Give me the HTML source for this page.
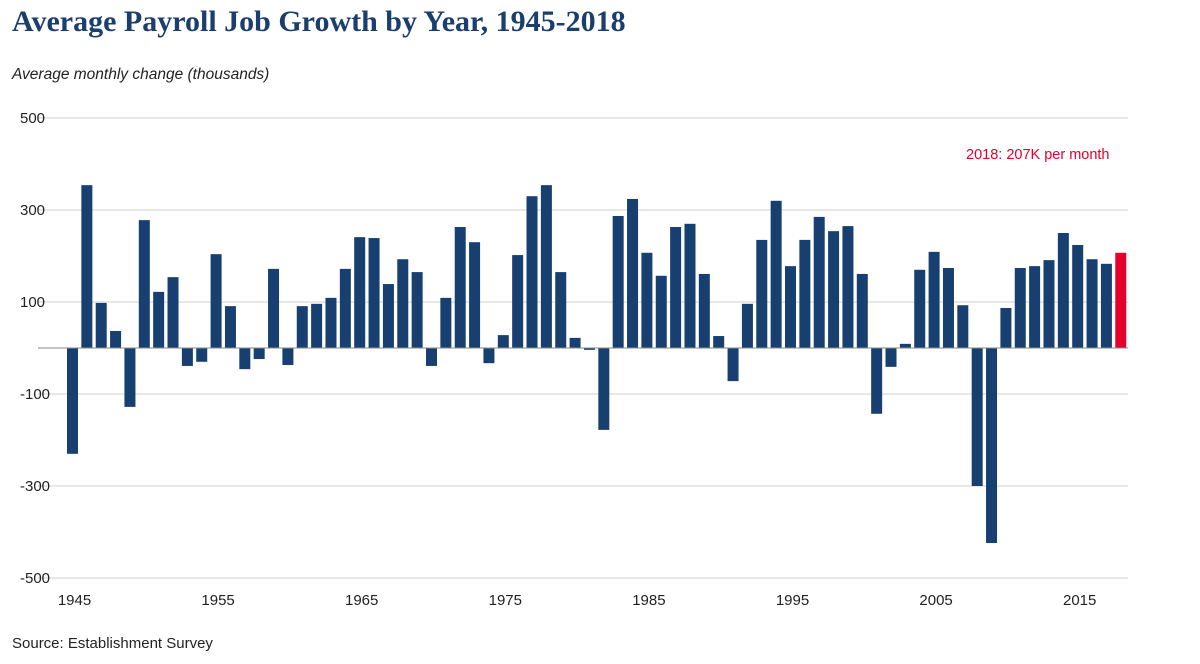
<!DOCTYPE html>
<html><head><meta charset="utf-8"><style>
body{margin:0;background:#fff;width:1200px;height:659px;overflow:hidden;font-family:"Liberation Sans",sans-serif}
</style></head><body>
<svg width="1200" height="659">
<text x="12" y="31" font-family="Liberation Serif,serif" font-weight="bold" font-size="30" fill="#1a3e6e">Average Payroll Job Growth by Year, 1945-2018</text>
<text x="12" y="79" font-style="italic" font-size="15.5" fill="#222">Average monthly change (thousands)</text>
<text x="12" y="648" font-size="15" fill="#222">Source: Establishment Survey</text>
<text x="966" y="159" font-size="14.5" fill="#e4002b">2018: 207K per month</text>
<g id="grid"></g><g id="bars"></g><g id="xl"></g>
</svg>
<script>
const years=[];for(let y=1945;y<=2018;y++)years.push(y);
const values=[-230,354,98,37,-128,278,122,154,-39,-30,204,91,-46,-24,172,-37,91,96,109,172,241,239,139,193,165,-39,109,263,230,-33,28,202,330,354,165,22,-4,-178,287,324,207,157,263,270,161,26,-72,96,235,320,178,235,285,254,265,161,-143,-41,9,170,209,174,93,-300,-424,87,174,178,191,250,224,193,183,207];
const yTicks=[500,300,100,-100,-300,-500];
const xTicks=[1945,1955,1965,1975,1985,1995,2005,2015];
const NS="http://www.w3.org/2000/svg";
const yS=v=>348-v*0.46;
const xS=y=>72.5+(y-1945)*14.36;
const g=document.getElementById('grid'),b=document.getElementById('bars'),xl=document.getElementById('xl');
function mk(p,t,a){const e=document.createElementNS(NS,t);for(const k in a)e.setAttribute(k,a[k]);p.appendChild(e);return e;}
yTicks.forEach(v=>{
 const l=mk(g,'line',{x1:38,x2:1128,y1:yS(v),y2:yS(v),stroke:'#cfcfcf','stroke-width':1});
 
 
 const t=mk(g,'text',{x:20,y:yS(v)+5,'font-size':15,fill:'#222'});t.textContent=v;
 
 
});
years.forEach((y,i)=>{
 const v=values[i];const top=Math.min(yS(v),yS(0));const h=Math.abs(yS(v)-yS(0));
 const r=mk(b,'rect',{x:xS(y)-5.5,y:top,width:11,height:Math.max(h,1),fill:y===2018?'#e4002b':'#173f6f'});
 
 
});
const z=mk(b,'line',{x1:38,x2:1128,y1:yS(0),y2:yS(0),stroke:'#888','stroke-width':1});


xTicks.forEach(y=>{
 const t=mk(xl,'text',{x:xS(y)+2,y:605,'font-size':15,fill:'#222','text-anchor':'middle'});t.textContent=y;
 
 
});
</script>
</body></html>
